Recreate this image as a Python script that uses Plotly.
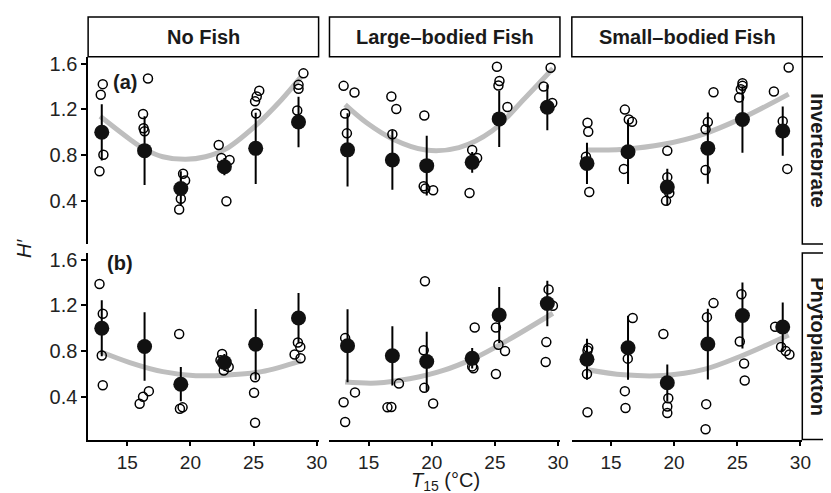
import plotly.graph_objects as go

# ---------------- data ----------------
col_titles = ["No Fish", "Large–bodied Fish", "Small–bodied Fish"]
row_titles = ["Invertebrate", "Phytoplankton"]
x_ticks = [15, 20, 25, 30]
y_ticks = [0.4, 0.8, 1.2, 1.6]

# treatment means (black dots) with error half-widths; same in both rows
nf_mean_T = [12.98, 16.37, 19.24, 22.69, 25.17, 28.56]
nf_mean_H = [1.0, 0.84, 0.51, 0.70, 0.86, 1.09]
nf_err = [0.245, 0.30, 0.15, 0.075, 0.31, 0.22]
lb_mean_T = [13.33, 16.88, 19.60, 23.20, 25.34, 29.15]
lb_mean_H = [0.847, 0.759, 0.709, 0.738, 1.117, 1.218]
lb_err = [0.32, 0.26, 0.26, 0.09, 0.245, 0.20]
sb_mean_T = [13.10, 16.35, 19.46, 22.67, 25.41, 28.60]
sb_mean_H = [0.729, 0.83, 0.522, 0.862, 1.112, 1.011]
sb_err = [0.18, 0.28, 0.16, 0.31, 0.29, 0.215]

# individual observations (open circles)
nf_inv_T = [13.06, 12.9, 13.11, 12.8, 16.64, 16.25, 16.29, 16.37, 19.42, 19.58, 19.24, 19.11,
            22.24, 22.45, 23.1, 22.85, 25.45, 25.25, 25.12, 25.2, 28.95, 28.56, 28.56, 28.46]
nf_inv_H = [1.42, 1.327, 0.804, 0.66, 1.47, 1.16, 1.035, 1.01, 0.638, 0.58, 0.42, 0.327,
            0.89, 0.776, 0.759, 0.399, 1.362, 1.313, 1.27, 1.164, 1.514, 1.414, 1.38, 1.19]
lb_inv_T = [13.02, 13.88, 13.14, 13.28, 16.8, 17.19, 16.88, 19.41, 19.36, 19.49, 20.11,
            23.2, 23.59, 22.99, 25.16, 25.36, 25.28, 25.99, 29.41, 28.86, 29.54]
lb_inv_H = [1.405, 1.347, 1.164, 0.991, 1.313, 1.203, 0.983, 1.146, 0.529, 0.509, 0.494,
            0.845, 0.776, 0.471, 1.572, 1.448, 1.408, 1.221, 1.563, 1.399, 1.255]
sb_inv_T = [13.14, 13.2, 13.02, 13.28, 16.1, 16.41, 16.67, 16.02, 19.46, 19.46, 19.62, 19.36,
            23.12, 22.67, 22.49, 22.49, 25.41, 25.41, 25.28, 25.15, 29.07, 27.9, 28.6, 28.96]
sb_inv_H = [1.083, 1.005, 0.787, 0.479, 1.198, 1.112, 1.091, 0.681, 0.839, 0.609, 0.471, 0.402,
            1.35, 1.089, 1.026, 0.672, 1.428, 1.405, 1.376, 1.304, 1.566, 1.356, 1.097, 0.681]

nf_phy_T = [12.8, 13.06, 12.98, 13.06, 15.98, 16.25, 16.71, 19.11, 19.17, 19.38,
            22.51, 22.38, 23.03, 22.64, 25.12, 25.04, 25.12, 28.51, 28.7, 28.25, 28.72]
nf_phy_H = [1.389, 1.127, 0.762, 0.50, 0.338, 0.40, 0.449, 0.95, 0.295, 0.307,
            0.775, 0.72, 0.66, 0.63, 0.571, 0.435, 0.172, 0.876, 0.837, 0.771, 0.737]
lb_phy_T = [13.14, 13.92, 13.02, 13.14, 16.49, 16.8, 17.4, 19.46, 19.36, 19.41, 20.11,
            23.4, 23.2, 23.3, 25.08, 25.28, 25.8, 25.08, 29.25, 29.59, 29.07, 29.02]
lb_phy_H = [0.914, 0.438, 0.352, 0.178, 0.307, 0.31, 0.515, 1.412, 0.808, 0.478, 0.341,
            1.007, 0.666, 0.65, 1.007, 0.856, 0.8, 0.6, 1.341, 1.198, 0.879, 0.705]
sb_phy_T = [13.2, 13.14, 13.1, 13.14, 16.72, 16.33, 16.1, 16.15, 19.15, 19.54, 19.46, 19.46,
            23.12, 22.6, 22.54, 22.49, 25.33, 25.2, 25.54, 25.59, 28.0, 28.47, 28.84, 29.13]
sb_phy_H = [0.828, 0.805, 0.6, 0.264, 1.09, 0.734, 0.449, 0.301, 0.95, 0.386, 0.315, 0.258,
            1.221, 1.098, 0.335, 0.115, 1.298, 0.885, 0.691, 0.543, 1.013, 0.837, 0.8, 0.771]

# fitted curves (grey)
nf_inv_fit_T = [12.85, 15.2, 16.37, 17.81, 19.64, 21.2, 22.77, 25.12, 27.21, 28.77]
nf_inv_fit_H = [1.14, 0.94, 0.853, 0.787, 0.764, 0.787, 0.853, 1.054, 1.284, 1.485]
lb_inv_fit_T = [13.14, 14.84, 16.93, 19.54, 22.15, 24.77, 27.37, 29.59]
lb_inv_fit_H = [1.241, 1.083, 0.94, 0.845, 0.867, 1.011, 1.298, 1.557]
sb_inv_fit_T = [13.14, 16.02, 19.15, 22.28, 25.41, 29.07]
sb_inv_fit_H = [0.845, 0.853, 0.896, 0.983, 1.126, 1.333]
nf_phy_fit_T = [12.85, 15.2, 17.81, 20.42, 23.03, 25.64, 28.77]
nf_phy_fit_H = [0.797, 0.70, 0.62, 0.585, 0.591, 0.62, 0.715]
lb_phy_fit_T = [13.14, 15.63, 18.24, 20.85, 23.46, 26.07, 29.59]
lb_phy_fit_H = [0.529, 0.52, 0.557, 0.628, 0.743, 0.899, 1.132]
sb_phy_fit_T = [13.14, 16.02, 19.15, 22.28, 25.41, 29.07]
sb_phy_fit_H = [0.637, 0.592, 0.586, 0.637, 0.762, 0.942]

# ---------------- layout geometry ----------------
W, H = 831, 493
FONT = "Liberation Sans, Arial, Helvetica, sans-serif"
col_px = [(81, 314), (325, 558), (570, 803)]
row_px = [(45, 234), (243, 431)]
x_range = [11.9, 30.15]
y_range = [0.025, 1.66]

def fx(px):
    return px / W

def fy(py):
    return 1 - py / H

means = [(nf_mean_T, nf_mean_H, nf_err), (lb_mean_T, lb_mean_H, lb_err), (sb_mean_T, sb_mean_H, sb_err)]
obs = [[(nf_inv_T, nf_inv_H), (lb_inv_T, lb_inv_H), (sb_inv_T, sb_inv_H)],
       [(nf_phy_T, nf_phy_H), (lb_phy_T, lb_phy_H), (sb_phy_T, sb_phy_H)]]
fits = [[(nf_inv_fit_T, nf_inv_fit_H), (lb_inv_fit_T, lb_inv_fit_H), (sb_inv_fit_T, sb_inv_fit_H)],
        [(nf_phy_fit_T, nf_phy_fit_H), (lb_phy_fit_T, lb_phy_fit_H), (sb_phy_fit_T, sb_phy_fit_H)]]

fig = go.Figure()
layout = {}
shapes = []
annotations = []

for r in range(2):
    for c in range(3):
        k = r * 3 + c + 1
        xa = "x" if k == 1 else f"x{k}"
        ya = "y" if k == 1 else f"y{k}"
        xkey = "xaxis" if k == 1 else f"xaxis{k}"
        ykey = "yaxis" if k == 1 else f"yaxis{k}"
        bottom = (r == 1)
        left = (c == 0)
        layout[xkey] = dict(
            domain=[fx(col_px[c][0]), fx(col_px[c][1])], range=x_range, anchor=ya,
            showgrid=False, zeroline=False, showline=bottom, linecolor="black", linewidth=1.5,
            ticks="outside" if bottom else "", ticklen=5, tickwidth=1.5, tickcolor="black",
            showticklabels=bottom, tickvals=x_ticks,
            tickfont=dict(family=FONT, size=19, color="#222"))
        layout[ykey] = dict(
            domain=[fy(row_px[r][1]), fy(row_px[r][0])], range=y_range, anchor=xa,
            showgrid=False, zeroline=False, showline=left, linecolor="black", linewidth=1.5,
            ticks="outside" if left else "", ticklen=5, tickwidth=1.5, tickcolor="black",
            showticklabels=left, tickvals=y_ticks, tickformat=".1f",
            tickfont=dict(family=FONT, size=20, color="#222"))

        ft, fh = fits[r][c]
        fig.add_trace(go.Scatter(x=ft, y=fh, mode="lines", xaxis=xa, yaxis=ya,
                                 line=dict(color="#BEBEBE", width=5, shape="spline"),
                                 showlegend=False, hoverinfo="skip"))
        ot, oh = obs[r][c]
        fig.add_trace(go.Scatter(x=ot, y=oh, mode="markers", xaxis=xa, yaxis=ya,
                                 marker=dict(symbol="circle-open", size=9, color="black",
                                             line=dict(width=1.5, color="black")),
                                 showlegend=False))
        mt, mh, me = means[c]
        fig.add_trace(go.Scatter(x=mt, y=mh, mode="markers", xaxis=xa, yaxis=ya,
                                 error_y=dict(type="data", array=me, width=0, thickness=2, color="black"),
                                 marker=dict(symbol="circle", size=15, color="#111"),
                                 showlegend=False))

# top strips
for c in range(3):
    shapes.append(dict(type="rect", xref="paper", yref="paper",
                       x0=fx(col_px[c][0]), x1=fx(col_px[c][1]), y0=fy(45), y1=fy(5),
                       line=dict(color="black", width=1.5), fillcolor="white", layer="below"))
    annotations.append(dict(text=f"<b>{col_titles[c]}</b>", xref="paper", yref="paper",
                            x=fx((col_px[c][0] + col_px[c][1]) / 2), y=fy(25),
                            showarrow=False, xanchor="center", yanchor="middle",
                            font=dict(family=FONT, size=20, color="#1a1a1a")))
# right strips
for r in range(2):
    shapes.append(dict(type="rect", xref="paper", yref="paper",
                       x0=fx(803), x1=fx(845), y0=fy(row_px[r][1]), y1=fy(row_px[r][0]),
                       line=dict(color="black", width=1.5), fillcolor="white", layer="below"))
    annotations.append(dict(text=f"<b>{row_titles[r]}</b>", xref="paper", yref="paper",
                            x=fx(819), y=fy((row_px[r][0] + row_px[r][1]) / 2),
                            showarrow=False, textangle=90, xanchor="center", yanchor="middle",
                            font=dict(family=FONT, size=20, color="#1a1a1a")))

# panel tags
annotations.append(dict(text="<b>(a)</b>", xref="x", yref="y", x=14.8, y=1.44, showarrow=False,
                        font=dict(family=FONT, size=20, color="#1a1a1a")))
annotations.append(dict(text="<b>(b)</b>", xref="x4", yref="y4", x=14.4, y=1.57, showarrow=False,
                        font=dict(family=FONT, size=20, color="#1a1a1a")))
# axis titles
annotations.append(dict(text="<i>T</i><sub>15</sub> (°C)", xref="paper", yref="paper",
                        x=fx(442), y=fy(473), showarrow=False, xanchor="center", yanchor="middle",
                        font=dict(family=FONT, size=20, color="#1a1a1a")))
annotations.append(dict(text="<i>H′</i>", xref="paper", yref="paper",
                        x=fx(16), y=fy(238), showarrow=False, textangle=-90,
                        xanchor="center", yanchor="middle",
                        font=dict(family=FONT, size=20, color="#1a1a1a")))

fig.update_layout(width=W, height=H, margin=dict(l=0, r=0, t=0, b=0),
                  plot_bgcolor="white", paper_bgcolor="white",
                  shapes=shapes, annotations=annotations, **layout)

fig.write_html("out.html")
